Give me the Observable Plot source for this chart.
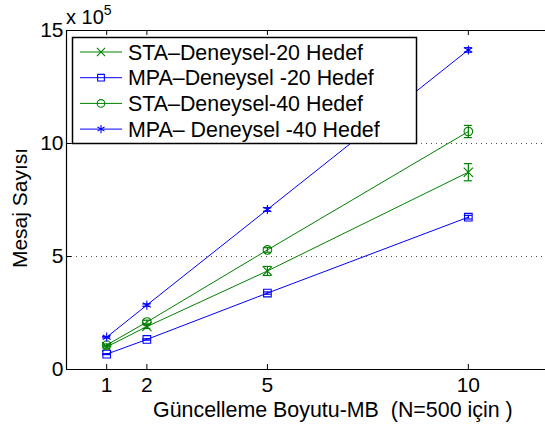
<!DOCTYPE html>
<html>
<head>
<meta charset="utf-8">
<script src="https://cdn.jsdelivr.net/npm/d3@7"></script>
<script src="https://cdn.jsdelivr.net/npm/@observablehq/plot@0.6"></script>
<style>
  html, body { margin: 0; padding: 0; background: #fff; }
  #chart { position: relative; width: 545px; height: 427px; }
  svg text { font-family: "Liberation Sans", Arial, Helvetica, sans-serif; }
</style>
</head>
<body>
<div id="chart"></div>
<script>
const sizes = [1, 2, 5, 10];
const xTicks = [1, 2, 5, 10];
const yTicks = [0, 5, 10, 15];
const gridLines = [5, 10];

const names = ["STA–Deneysel-20 Hedef", "MPA–Deneysel -20 Hedef", "STA–Deneysel-40 Hedef", "MPA– Deneysel -40 Hedef"];
const colors = ["#008000", "#0000ff", "#008000", "#0000ff"];
const symbols = ["times", "square", "circle", "asterisk"];

const sta20 = [1.00, 1.90, 4.36, 8.73];
const sta20Err = [0.05, 0.08, 0.20, 0.38];
const mpa20 = [0.68, 1.33, 3.38, 6.74];
const mpa20Err = [0.02, 0.03, 0.05, 0.08];
const sta40 = [1.08, 2.10, 5.29, 10.53];
const sta40Err = [0.05, 0.08, 0.10, 0.27];
const mpa40 = [1.43, 2.85, 7.08, 14.14];
const mpa40Err = [0.03, 0.05, 0.08, 0.10];

const seriesVals = [sta20, mpa20, sta40, mpa40];
const seriesErr = [sta20Err, mpa20Err, sta40Err, mpa40Err];

const rows = [];
seriesVals.forEach((vals, s) => vals.forEach((v, i) => rows.push({
  s, name: names[s], x: sizes[i], y: v, e: seriesErr[s][i]
})));

const capHalf = 0.1;
const colorScale = {domain: names, range: colors};

const plot = Plot.plot({
  width: 545,
  height: 427,
  marginLeft: 66,
  marginRight: 0,
  marginTop: 30,
  marginBottom: 58,
  style: {fontFamily: "'Liberation Sans', Arial, sans-serif", background: "#fff", overflow: "visible"},
  x: {domain: [0, 11.92]},
  y: {domain: [0, 15]},
  color: colorScale,
  marks: [
    Plot.ruleY(gridLines, {stroke: "#000", strokeOpacity: 0.7, strokeDasharray: "1,4"}),
    Plot.line(rows, {x: "x", y: "y", z: "name", stroke: "name", strokeWidth: 1}),
    Plot.ruleX(rows, {x: "x", y1: d => d.y - d.e, y2: d => d.y + d.e, stroke: "name", strokeWidth: 1.2}),
    Plot.ruleY(rows, {y: d => d.y - d.e, x1: d => d.x - capHalf, x2: d => d.x + capHalf, stroke: "name", strokeWidth: 1.2}),
    Plot.ruleY(rows, {y: d => d.y + d.e, x1: d => d.x - capHalf, x2: d => d.x + capHalf, stroke: "name", strokeWidth: 1.2}),
    Plot.dot(rows, {x: "x", y: "y", stroke: "name", symbol: d => symbols[d.s], r: 4.3, fill: "none", strokeWidth: 1.1}),
    Plot.ruleY([0, 15], {stroke: "#000", strokeWidth: 1.2}),
    Plot.ruleX([0], {stroke: "#000", strokeWidth: 1.2}),
    Plot.ruleX(xTicks, {y1: 0, y2: 0.22, stroke: "#000"}),
    Plot.ruleX(xTicks, {y1: 15, y2: 14.78, stroke: "#000"}),
    Plot.ruleY(yTicks, {x1: 0, x2: 0.13, stroke: "#000"}),
    Plot.axisX({ticks: xTicks, tickSize: 0, tickPadding: 8, fontSize: 21, label: null, fill: "#000"}),
    Plot.axisY({ticks: yTicks, tickSize: 0, tickPadding: 3, fontSize: 21, label: null, fill: "#000"})
  ]
});

document.getElementById("chart").appendChild(plot);

const svg = d3.select(plot);
const font = "'Liberation Sans', Arial, sans-serif";

// exponent label
const expo = svg.append("text").attr("x", 66).attr("y", 24).attr("text-anchor", "start")
  .attr("font-size", 20).attr("fill", "#000").attr("font-family", font);
expo.append("tspan").text("x 10");
expo.append("tspan").attr("font-size", 14).attr("dy", -9).text("5");

// axis titles
svg.append("text").attr("transform", "translate(27,208) rotate(-90)")
  .attr("text-anchor", "middle").attr("font-size", 21).attr("fill", "#000")
  .attr("font-family", font).text("Mesaj Sayısı");
svg.append("text").attr("x", 153).attr("y", 417).attr("text-anchor", "start")
  .attr("font-size", 21.4).attr("fill", "#000").attr("font-family", font)
  .attr("xml:space", "preserve").style("white-space", "pre")
  .text("Güncelleme Boyutu-MB  (N=500 için )");

// legend
const lg = svg.append("g").attr("text-anchor", "start");
lg.append("rect").attr("x", 72.5).attr("y", 37.5).attr("width", 344).attr("height", 106)
  .attr("fill", "#fff").attr("stroke", "#000").attr("stroke-width", 1.5);
const symMap = {times: d3.symbolTimes, square: d3.symbolSquare, circle: d3.symbolCircle, asterisk: d3.symbolAsterisk};
names.forEach((n, i) => {
  const y = 52 + i * 25.7;
  lg.append("line").attr("x1", 80).attr("x2", 122).attr("y1", y).attr("y2", y)
    .attr("stroke", colors[i]).attr("stroke-width", 1);
  lg.append("path").attr("d", d3.symbol(symMap[symbols[i]], Math.PI * 3.8 * 3.8)())
    .attr("transform", `translate(101,${y})`).attr("fill", "none")
    .attr("stroke", colors[i]).attr("stroke-width", 1.1);
  lg.append("text").attr("x", 128).attr("y", y + 7.5).attr("text-anchor", "start").attr("font-size", 21.4)
    .attr("fill", "#000").attr("font-family", font).attr("xml:space", "preserve")
    .style("white-space", "pre").text(n);
});
</script>
</body>
</html>
